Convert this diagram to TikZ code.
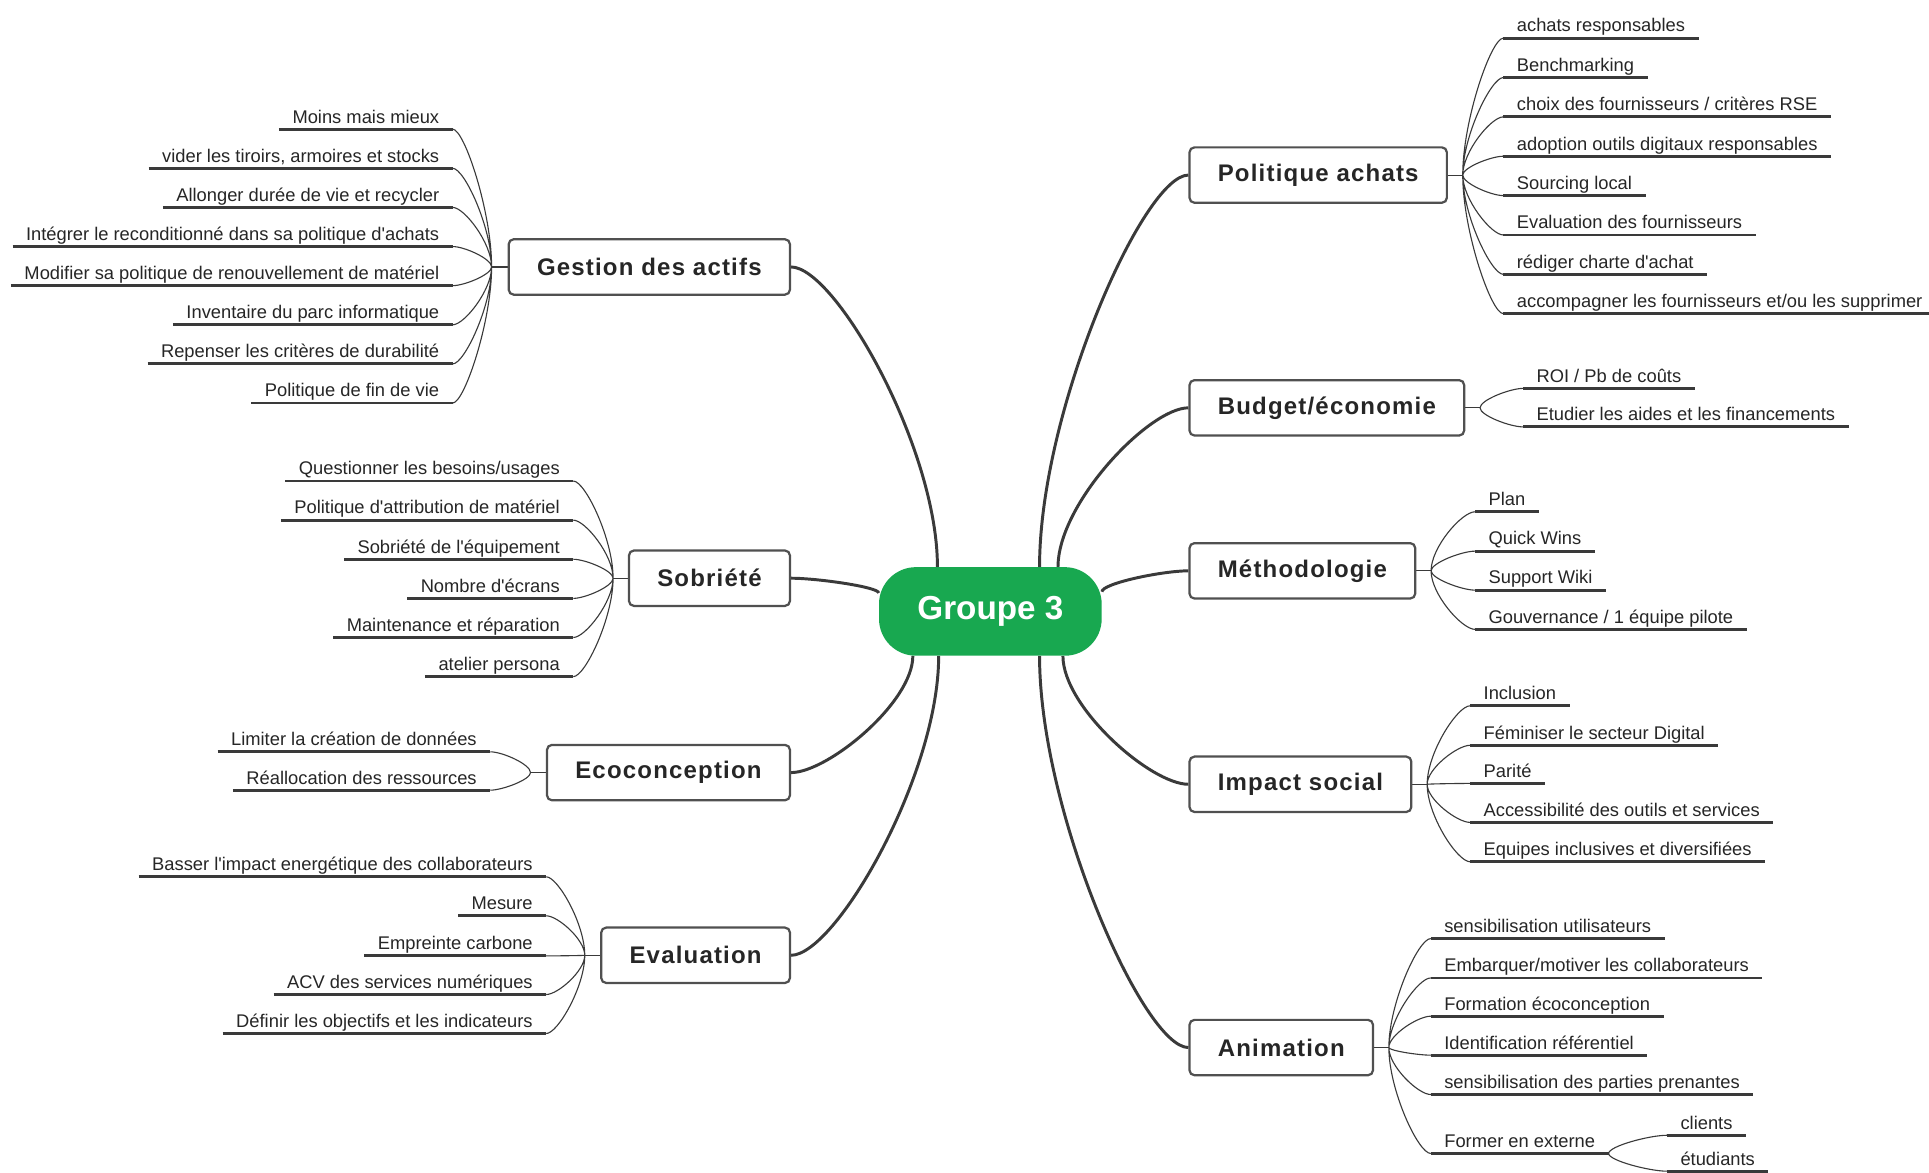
\documentclass[tikz,border=0pt]{standalone}
\usepackage{fontspec}
\setmainfont{Liberation Sans}[Ligatures=TeXOff]
\newfontfamily\topicfont[LetterSpace=5]{Liberation Sans}
\usetikzlibrary{calc,backgrounds}
\definecolor{groupgreen}{RGB}{24,168,80}
\definecolor{inkgray}{RGB}{58,58,58}
\definecolor{boxgray}{RGB}{80,80,80}
\tikzset{
  hub/.style={fill=groupgreen,text=white,rounded corners=30pt,minimum width=181pt,minimum height=72pt,inner sep=0pt,font=\bfseries\fontsize{27}{30}\selectfont},
  topic/.style={draw=boxgray,line width=1.8pt,rounded corners=4pt,fill=white,minimum height=45pt,inner xsep=23pt,text=black!85,font=\topicfont\bfseries\fontsize{19.5}{22}\selectfont},
  uline/.style={draw=inkgray,line width=2.3pt},
  leaf/.style={inner xsep=11pt,inner ysep=1.5pt,outer sep=0pt,text height=11pt,text depth=3.5pt,text=black!85,font=\fontsize{14.9}{17}\selectfont,
    append after command={(\tikzlastnode.south west) edge[uline] (\tikzlastnode.south east)}},
  curvy/.style={to path={let \p1=(\tikztostart), \p2=(\tikztotarget) in
    .. controls (\x1,{\y1+0.4*(\y2-\y1)}) and ({\x2+0.3*(\x1-\x2)},\y2) .. (\p2)}},
  branch/.style={curvy,draw=inkgray,line width=2.4pt},
  twig/.style={curvy,draw=inkgray,line width=0.9pt}
}
\begin{document}
\begin{tikzpicture}[x=1pt,y=-1pt]
\begin{scope}[on background layer]
\fill[white] (0,0) rectangle (1568,953);
\end{scope}
\useasboundingbox (0,0) rectangle (1568,953);

% centre
\node[hub] (g3) at (805,497) {Groupe 3};

% main topics
\node[topic,anchor=east] (ga) at (643,217) {Gestion des actifs};
\node[topic,anchor=east] (so) at (643,470) {Sobriété};
\node[topic,anchor=east] (ec) at (643,628) {Ecoconception};
\node[topic,anchor=east] (ev) at (643,776.5) {Evaluation};
\node[topic,anchor=west] (pa) at (966,142.3) {Politique achats};
\node[topic,anchor=west] (bu) at (966,331.5) {Budget/économie};
\node[topic,anchor=west] (me) at (966,464) {Méthodologie};
\node[topic,anchor=west] (is) at (966,637.5) {Impact social};
\node[topic,anchor=west] (an) at (966,851.5) {Animation};

% junctions
\coordinate (jga) at ([xshift=-13pt]ga.west);
\coordinate (jso) at ([xshift=-12pt]so.west);
\coordinate (jec) at ([xshift=-12.5pt]ec.west);
\coordinate (jev) at ([xshift=-12.5pt]ev.west);
\coordinate (jpa) at ([xshift=12pt]pa.east);
\coordinate (jbu) at ([xshift=12pt]bu.east);
\coordinate (jme) at ([xshift=12pt]me.east);
\coordinate (jis) at ([xshift=12pt]is.east);
\coordinate (jan) at ([xshift=12pt]an.east);

% starts on the centre
\coordinate (sga) at ([xshift=-43pt]g3.north);
\coordinate (spa) at ([xshift=40pt]g3.north);
\coordinate (sbu) at ([xshift=55pt]g3.north);
\coordinate (sme) at ([yshift=16pt]g3.east);
\coordinate (sso) at ([yshift=15pt]g3.west);
\coordinate (sec) at ([xshift=-63pt]g3.south);
\coordinate (sev) at ([xshift=-42pt]g3.south);
\coordinate (sis) at ([xshift=59pt]g3.south);
\coordinate (san) at ([xshift=40pt]g3.south);

% Gestion des actifs
\node[leaf,anchor=south east] (ga1) at (368,105) {Moins mais mieux};
\node[leaf,anchor=south east] (ga2) at (368,136.8) {vider les tiroirs, armoires et stocks};
\node[leaf,anchor=south east] (ga3) at (368,168.6) {Allonger durée de vie et recycler};
\node[leaf,anchor=south east] (ga4) at (368,200.4) {Intégrer le reconditionné dans sa politique d'achats};
\node[leaf,anchor=south east] (ga5) at (368,232.2) {Modifier sa politique de renouvellement de matériel};
\node[leaf,anchor=south east] (ga6) at (368,264) {Inventaire du parc informatique};
\node[leaf,anchor=south east] (ga7) at (368,295.8) {Repenser les critères de durabilité};
\node[leaf,anchor=south east] (ga8) at (368,327.6) {Politique de fin de vie};

% Sobriete
\node[leaf,anchor=south east] (so1) at (466,391) {Questionner les besoins/usages};
\node[leaf,anchor=south east] (so2) at (466,422.8) {Politique d'attribution de matériel};
\node[leaf,anchor=south east] (so3) at (466,454.6) {Sobriété de l'équipement};
\node[leaf,anchor=south east] (so4) at (466,486.4) {Nombre d'écrans};
\node[leaf,anchor=south east] (so5) at (466,518.2) {Maintenance et réparation};
\node[leaf,anchor=south east] (so6) at (466,550) {atelier persona};

% Ecoconception
\node[leaf,anchor=south east] (ec1) at (398.5,611.1) {Limiter la création de données};
\node[leaf,anchor=south east] (ec2) at (398.5,642.3) {Réallocation des ressources};

% Evaluation
\node[leaf,anchor=south east] (ev1) at (444,712.7) {Basser l'impact energétique des collaborateurs};
\node[leaf,anchor=south east] (ev2) at (444,744.4) {Mesure};
\node[leaf,anchor=south east] (ev3) at (444,777) {Empreinte carbone};
\node[leaf,anchor=south east] (ev4) at (444,808.4) {ACV des services numériques};
\node[leaf,anchor=south east] (ev5) at (444,840.1) {Définir les objectifs et les indicateurs};

% Politique achats
\node[leaf,anchor=south west] (pa1) at (1222,31) {achats responsables};
\node[leaf,anchor=south west] (pa2) at (1222,63) {Benchmarking};
\node[leaf,anchor=south west] (pa3) at (1222,95) {choix des fournisseurs / critères RSE};
\node[leaf,anchor=south west] (pa4) at (1222,127) {adoption outils digitaux responsables};
\node[leaf,anchor=south west] (pa5) at (1222,159) {Sourcing local};
\node[leaf,anchor=south west] (pa6) at (1222,191) {Evaluation des fournisseurs};
\node[leaf,anchor=south west] (pa7) at (1222,223) {rédiger charte d'achat};
\node[leaf,anchor=south west] (pa8) at (1222,255) {accompagner les fournisseurs et/ou les supprimer};

% Budget
\node[leaf,anchor=south west] (bu1) at (1238,315.7) {ROI / Pb de coûts};
\node[leaf,anchor=south west] (bu2) at (1238,347) {Etudier les aides et les financements};

% Methodologie
\node[leaf,anchor=south west] (me1) at (1199,416) {Plan};
\node[leaf,anchor=south west] (me2) at (1199,448) {Quick Wins};
\node[leaf,anchor=south west] (me3) at (1199,479.7) {Support Wiki};
\node[leaf,anchor=south west] (me4) at (1199,511.6) {Gouvernance / 1 équipe pilote};

% Impact social
\node[leaf,anchor=south west] (is1) at (1195,573.7) {Inclusion};
\node[leaf,anchor=south west] (is2) at (1195,605.8) {Féminiser le secteur Digital};
\node[leaf,anchor=south west] (is3) at (1195,636.8) {Parité};
\node[leaf,anchor=south west] (is4) at (1195,668.5) {Accessibilité des outils et services};
\node[leaf,anchor=south west] (is5) at (1195,700.5) {Equipes inclusives et diversifiées};

% Animation
\node[leaf,anchor=south west] (an1) at (1163,762.9) {sensibilisation utilisateurs};
\node[leaf,anchor=south west] (an2) at (1163,794.9) {Embarquer/motiver les collaborateurs};
\node[leaf,anchor=south west] (an3) at (1163,826) {Formation écoconception};
\node[leaf,anchor=south west] (an4) at (1163,857.7) {Identification référentiel};
\node[leaf,anchor=south west] (an5) at (1163,889.7) {sensibilisation des parties prenantes};
\node[leaf,anchor=south west] (an6) at (1163,937.6) {Former en externe};
\node[leaf,anchor=south west] (an7) at (1355,922.8) {clients};
\node[leaf,anchor=south west] (an8) at (1355,952) {étudiants};

\begin{scope}[on background layer]
% branches
\draw[branch] (sga) to (ga.east);
\draw[branch] (sso) to (so.east);
\draw[branch] (sec) to (ec.east);
\draw[branch] (sev) to (ev.east);
\draw[branch] (spa) to (pa.west);
\draw[branch] (sbu) to (bu.west);
\draw[branch] (sme) to (me.west);
\draw[branch] (sis) to (is.west);
\draw[branch] (san) to (an.west);
% twigs
\draw[twig] (ga.west) -- (jga) (so.west) -- (jso) (ec.west) -- (jec) (ev.west) -- (jev);
\draw[twig] (pa.east) -- (jpa) (bu.east) -- (jbu) (me.east) -- (jme) (is.east) -- (jis) (an.east) -- (jan);
\draw[twig] (jga) to (ga1.south east) (jga) to (ga2.south east) (jga) to (ga3.south east) (jga) to (ga4.south east)
  (jga) to (ga5.south east) (jga) to (ga6.south east) (jga) to (ga7.south east) (jga) to (ga8.south east);
\draw[twig] (jso) to (so1.south east) (jso) to (so2.south east) (jso) to (so3.south east)
  (jso) to (so4.south east) (jso) to (so5.south east) (jso) to (so6.south east);
\draw[twig] (jec) to (ec1.south east) (jec) to (ec2.south east);
\draw[twig] (jev) to (ev1.south east) (jev) to (ev2.south east) (jev) to (ev3.south east)
  (jev) to (ev4.south east) (jev) to (ev5.south east);
\draw[twig] (jpa) to (pa1.south west) (jpa) to (pa2.south west) (jpa) to (pa3.south west) (jpa) to (pa4.south west)
  (jpa) to (pa5.south west) (jpa) to (pa6.south west) (jpa) to (pa7.south west) (jpa) to (pa8.south west);
\draw[twig] (jbu) to (bu1.south west) (jbu) to (bu2.south west);
\draw[twig] (jme) to (me1.south west) (jme) to (me2.south west) (jme) to (me3.south west) (jme) to (me4.south west);
\draw[twig] (jis) to (is1.south west) (jis) to (is2.south west) (jis) to (is3.south west)
  (jis) to (is4.south west) (jis) to (is5.south west);
\draw[twig] (jan) to (an1.south west) (jan) to (an2.south west) (jan) to (an3.south west)
  (jan) to (an4.south west) (jan) to (an5.south west) (jan) to (an6.south west);
\draw[twig] (an6.south east) to (an7.south west) (an6.south east) to (an8.south west);
\end{scope}
\end{tikzpicture}
\end{document}
